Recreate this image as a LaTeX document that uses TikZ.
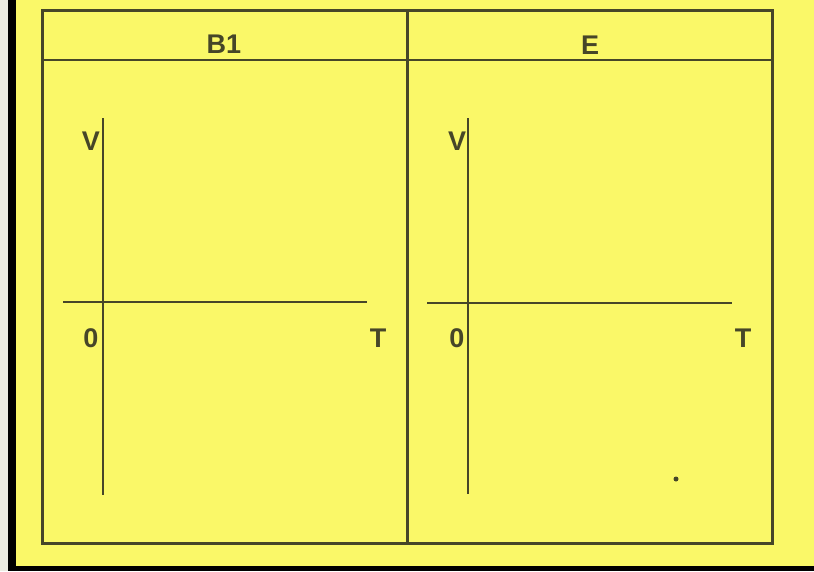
\documentclass[tikz,border=0pt]{standalone}
\usepackage{fontspec}
\setmainfont{Liberation Sans}
\definecolor{paper}{RGB}{250,248,104}
\definecolor{ink}{RGB}{70,70,40}
\definecolor{edge}{RGB}{235,235,225}
\begin{document}
\begin{tikzpicture}[x=1pt,y=-1pt,
  frame/.style={draw=ink,line width=3pt},
  rule/.style={draw=ink,line width=2.2pt},
  axis/.style={draw=ink,line width=2pt},
  head/.style={text=ink,font=\fontsize{27}{27}\selectfont\bfseries,inner sep=0pt},
  lab/.style={text=ink,font=\fontsize{27}{27}\selectfont\bfseries,inner sep=0pt}]
\useasboundingbox (0,0) rectangle (814,571);
\fill[paper] (0,0) rectangle (814,571);
\fill[edge] (0,0) rectangle (8,571);
\fill[black] (8,0) rectangle (16,571);
\fill[black] (8,566) rectangle (814,571);
% frame
\draw[frame] (42,10) rectangle (772,543);
\draw[frame] (407,10) -- (407,543);
\draw[rule] (42,60) -- (772,60);
% headers
\node[head] (hb) at (224,44) {B1};
\node[head] (he) at (590,45) {E};
% left axes
\draw[axis] (103,118) -- (103,495);
\draw[axis] (63,302) -- (367,302);
\node[lab] (lv) at (91,141) {V};
\node[lab] (lz) at (91,338) {0};
\node[lab] (lt) at (378,338) {T};
% right axes
\draw[axis] (468,118) -- (468,494);
\draw[axis] (427,303) -- (732,303);
\node[lab] (rv) at (457,141) {V};
\node[lab] (rz) at (457,338) {0};
\node[lab] (rt) at (743,338) {T};
% speck
\fill[ink] (676,479) circle (2.5);
\end{tikzpicture}
\end{document}
